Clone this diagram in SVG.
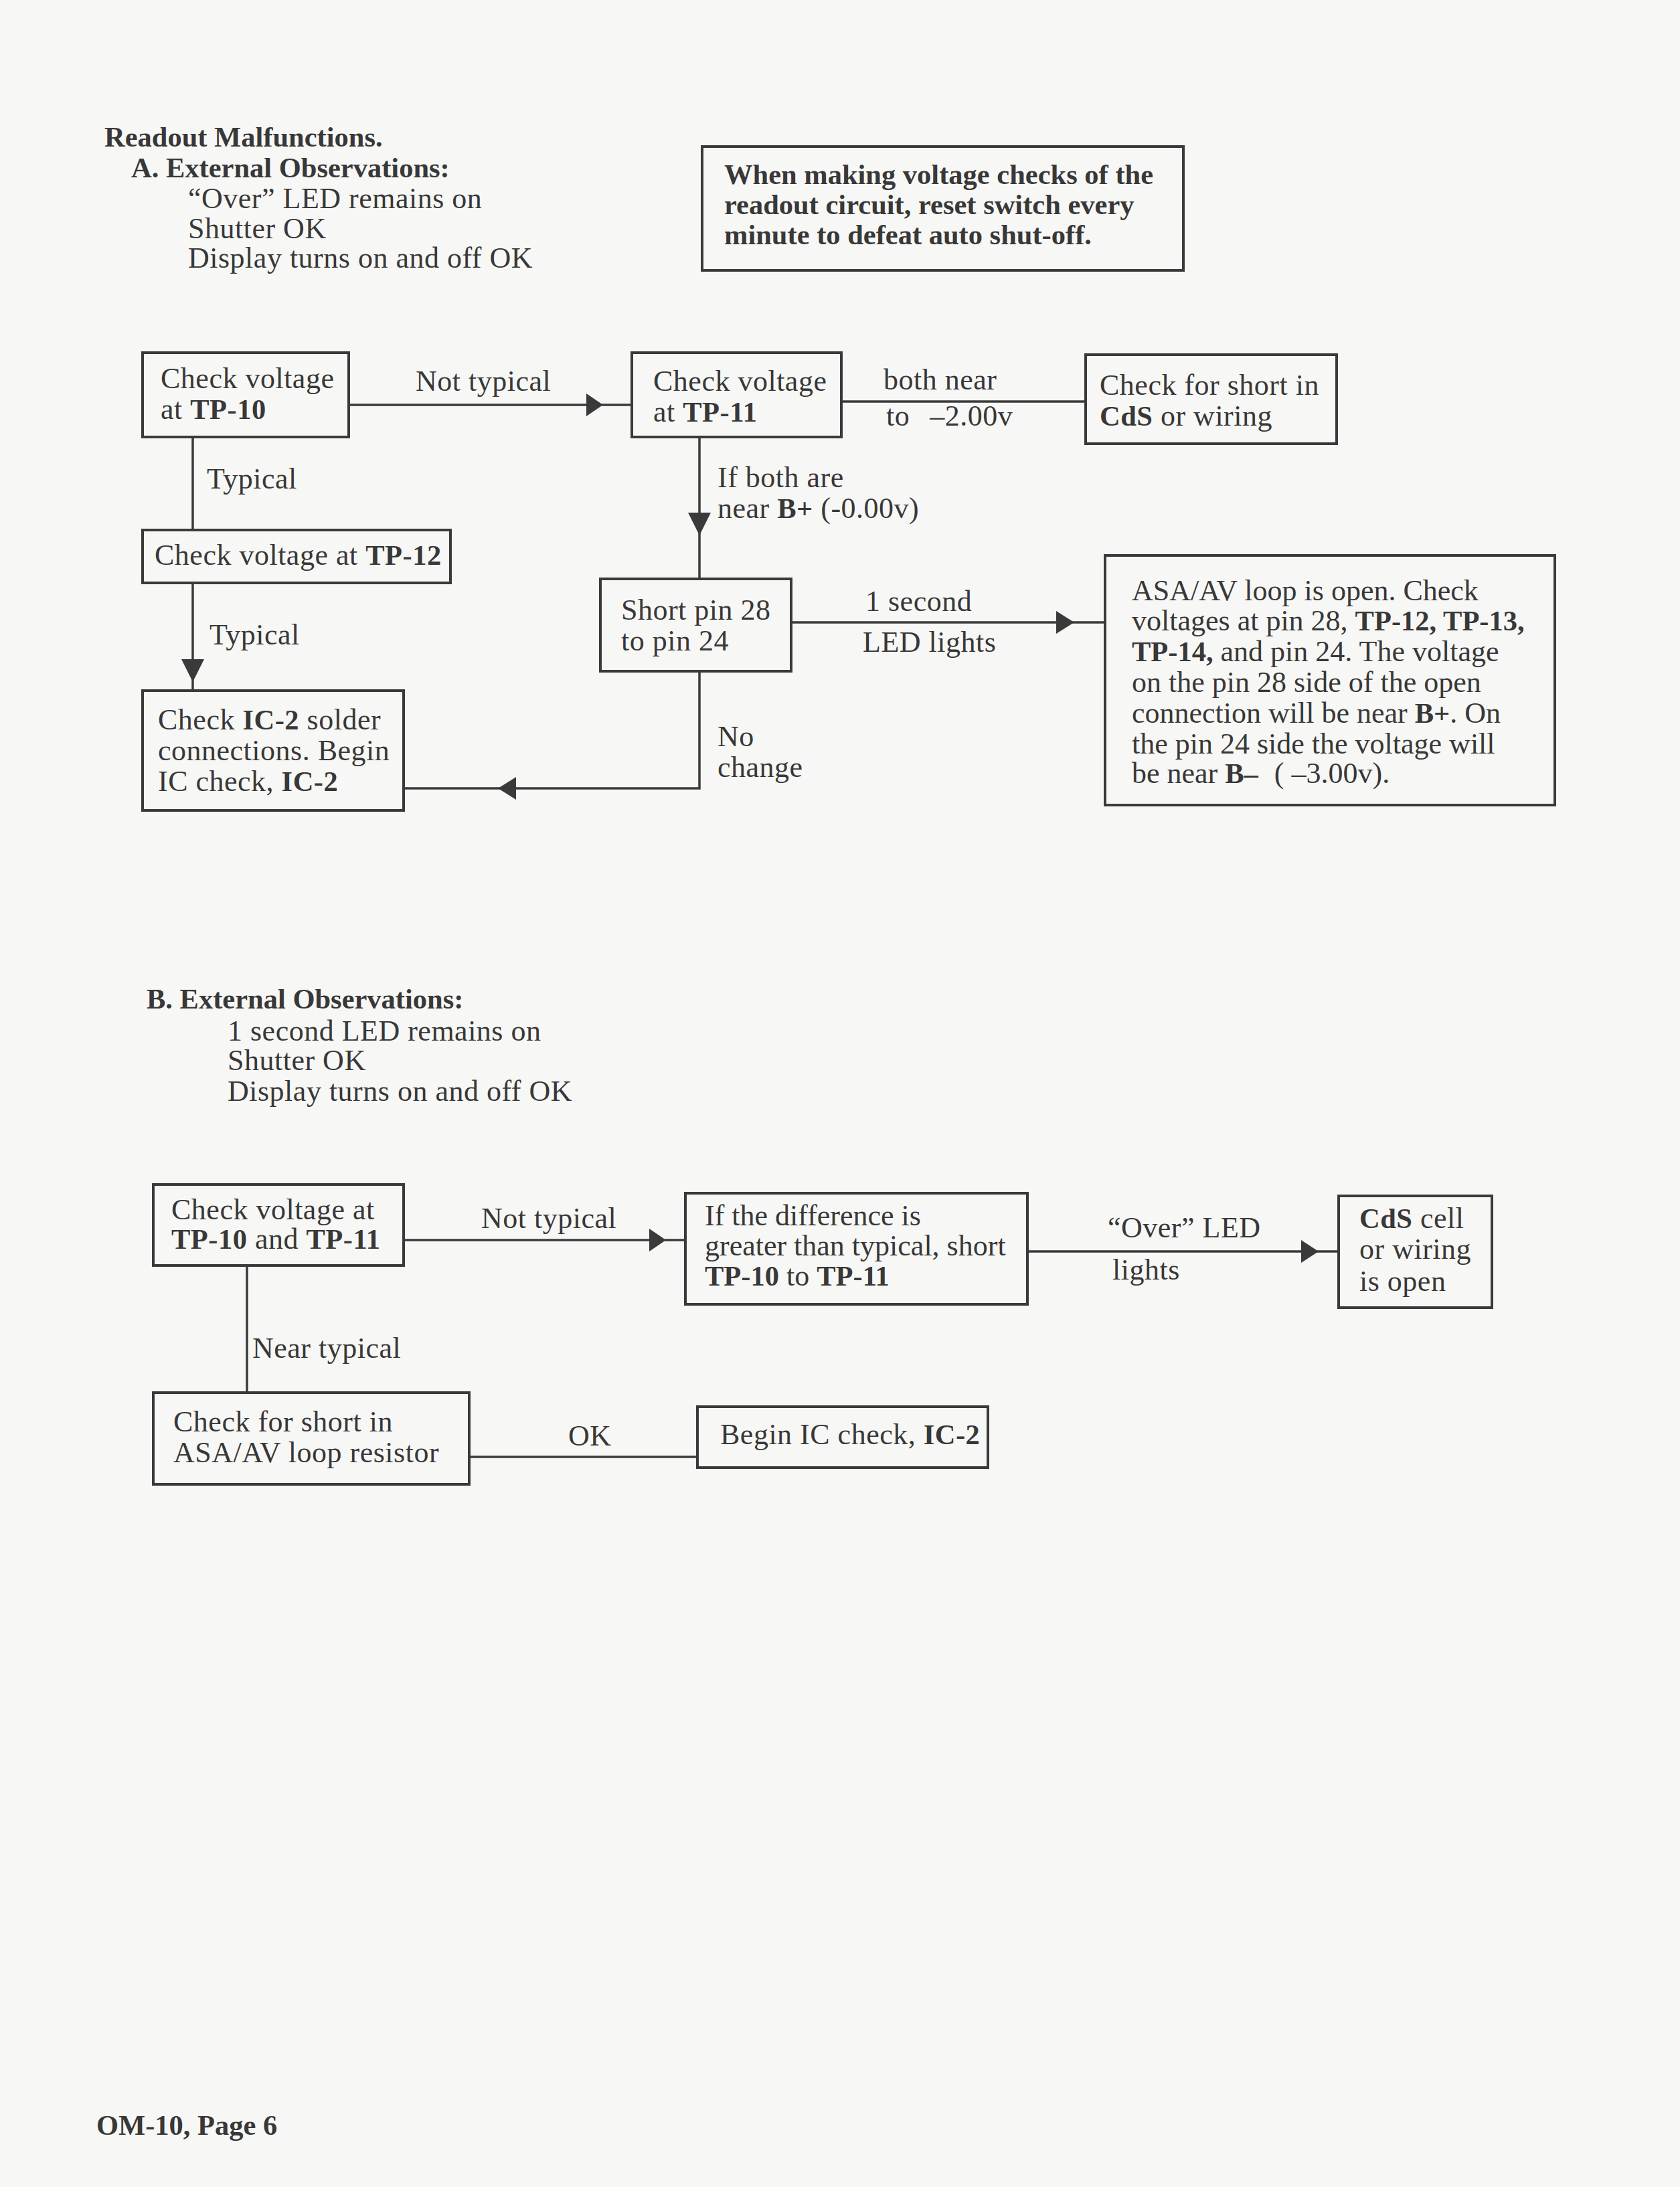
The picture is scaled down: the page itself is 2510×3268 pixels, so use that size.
<svg xmlns="http://www.w3.org/2000/svg" width="2510" height="3268" viewBox="0 0 2510 3268">
<style>
text{font-family:"Liberation Serif","Times New Roman",serif;font-size:44px;fill:#383838}
.b{font-weight:bold;font-size:42.5px}
.r{letter-spacing:0.5px}
.box{fill:none;stroke:#3a3a3a;stroke-width:4}
.ln{fill:none;stroke:#3a3a3a;stroke-width:3.5}
.ah{fill:#3a3a3a}
</style>
<rect x="0" y="0" width="2510" height="3268" fill="#f7f7f5"/>
<g id="header">
<text x="156" y="219" class="b">Readout Malfunctions.</text>
<text x="196" y="265" class="b">A. External Observations:</text>
<text x="281" y="311" class="r">“Over” LED remains on</text>
<text x="281" y="356" class="r">Shutter OK</text>
<text x="281" y="400" class="r">Display turns on and off OK</text>
</g>
<g id="note">
<rect class="box" x="1049" y="219" width="719" height="185"/>
<text x="1082" y="275" class="b">When making voltage checks of the</text>
<text x="1082" y="320" class="b">readout circuit, reset switch every</text>
<text x="1082" y="365" class="b">minute to defeat auto shut-off.</text>
</g>
<g id="connectors">
<path class="ln" d="M521 605H944"/>
<polygon class="ah" points="876,588 901,605 876,622"/>
<path class="ln" d="M1257 600H1622"/>
<path class="ln" d="M288 653V792"/>
<path class="ln" d="M288 871V1032"/>
<polygon class="ah" points="271,985 288,1019 305,985"/>
<path class="ln" d="M1045 653V865"/>
<polygon class="ah" points="1028,766 1045,800 1062,766"/>
<path class="ln" d="M1182 930H1651"/>
<polygon class="ah" points="1578,913 1605,930 1578,947"/>
<path class="ln" d="M1045 1003V1178H603"/>
<polygon class="ah" points="771,1161 744,1178 771,1195"/>
<path class="ln" d="M603 1853H1024"/>
<polygon class="ah" points="970,1836 995,1853 970,1870"/>
<path class="ln" d="M1535 1870H2000"/>
<polygon class="ah" points="1944,1853 1970,1870 1944,1887"/>
<path class="ln" d="M369 1891V2081"/>
<path class="ln" d="M701 2177H1042"/>
</g>
<g id="labels">
<text x="621" y="584" class="r">Not typical</text>
<text x="1320" y="582" class="r">both near</text>
<text x="1324" y="636" class="r">to<tspan dx="30">–2.00v</tspan></text>
<text x="309" y="730" class="r">Typical</text>
<text x="313" y="963" class="r">Typical</text>
<text x="1072" y="728" class="r">If both are</text>
<text x="1072" y="774" class="r">near <tspan class="b">B+</tspan> (-0.00v)</text>
<text x="1293" y="913" class="r">1 second</text>
<text x="1289" y="974" class="r">LED lights</text>
<text x="1072" y="1115" class="r">No</text>
<text x="1072" y="1161" class="r">change</text>
<text x="719" y="1835" class="r">Not typical</text>
<text x="1655" y="1849" class="r">“Over” LED</text>
<text x="1662" y="1912" class="r">lights</text>
<text x="377" y="2029" class="r">Near typical</text>
<text x="849" y="2160" class="r">OK</text>
</g>
<g id="n-tp10">
<rect class="box" x="213" y="527" width="308" height="126"/>
<text x="240" y="580" class="r">Check voltage</text>
<text x="240" y="626" class="r">at <tspan class="b">TP-10</tspan></text>
</g>
<g id="n-tp11">
<rect class="box" x="944" y="527" width="313" height="126"/>
<text x="976" y="584" class="r">Check voltage</text>
<text x="976" y="630" class="r">at <tspan class="b">TP-11</tspan></text>
</g>
<g id="n-cds">
<rect class="box" x="1622" y="530" width="375" height="133"/>
<text x="1643" y="590" class="r">Check for short in</text>
<text x="1643" y="636" class="r"><tspan class="b">CdS</tspan> or wiring</text>
</g>
<g id="n-tp12">
<rect class="box" x="213" y="792" width="460" height="79"/>
<text x="231" y="844" class="r">Check voltage at <tspan class="b">TP-12</tspan></text>
</g>
<g id="n-ic2">
<rect class="box" x="213" y="1032" width="390" height="179"/>
<text x="236" y="1090" class="r">Check <tspan class="b">IC-2</tspan> solder</text>
<text x="236" y="1136" class="r">connections. Begin</text>
<text x="236" y="1182" class="r">IC check, <tspan class="b">IC-2</tspan></text>
</g>
<g id="n-short">
<rect class="box" x="897" y="865" width="285" height="138"/>
<text x="928" y="926" class="r">Short pin 28</text>
<text x="928" y="972" class="r">to pin 24</text>
</g>
<g id="n-asa">
<rect class="box" x="1651" y="830" width="672" height="373"/>
<text x="1691" y="897">ASA/AV loop is open. Check</text>
<text x="1691" y="942">voltages at pin 28, <tspan class="b">TP-12, TP-13,</tspan></text>
<text x="1691" y="988"><tspan class="b">TP-14,</tspan> and pin 24. The voltage</text>
<text x="1691" y="1034">on the pin 28 side of the open</text>
<text x="1691" y="1080">connection will be near <tspan class="b">B+</tspan>. On</text>
<text x="1691" y="1126">the pin 24 side the voltage will</text>
<text x="1691" y="1170">be near <tspan class="b">B–</tspan><tspan dx="24">( –3.00v).</tspan></text>
</g>
<g id="headerB">
<text x="219" y="1507" class="b">B. External Observations:</text>
<text x="340" y="1555" class="r">1 second LED remains on</text>
<text x="340" y="1599" class="r">Shutter OK</text>
<text x="340" y="1645" class="r">Display turns on and off OK</text>
</g>
<g id="n-b1">
<rect class="box" x="229" y="1770" width="374" height="121"/>
<text x="256" y="1822" class="r">Check voltage at</text>
<text x="256" y="1866" class="r"><tspan class="b">TP-10</tspan> and <tspan class="b">TP-11</tspan></text>
</g>
<g id="n-b2">
<rect class="box" x="1024" y="1783" width="511" height="166"/>
<text x="1053" y="1831">If the difference is</text>
<text x="1053" y="1876">greater than typical, short</text>
<text x="1053" y="1921"><tspan class="b">TP-10</tspan> to <tspan class="b">TP-11</tspan></text>
</g>
<g id="n-b3">
<rect class="box" x="2000" y="1787" width="229" height="167"/>
<text x="2031" y="1835" class="r"><tspan class="b">CdS</tspan> cell</text>
<text x="2031" y="1881" class="r">or wiring</text>
<text x="2031" y="1929" class="r">is open</text>
</g>
<g id="n-b4">
<rect class="box" x="229" y="2081" width="472" height="137"/>
<text x="259" y="2139" class="r">Check for short in</text>
<text x="259" y="2185" class="r">ASA/AV loop resistor</text>
</g>
<g id="n-b5">
<rect class="box" x="1042" y="2102" width="434" height="91"/>
<text x="1076" y="2158" class="r">Begin IC check, <tspan class="b">IC-2</tspan></text>
</g>
<g id="footer">
<text x="144" y="3190" class="b">OM-10, Page 6</text>
</g>
</svg>
